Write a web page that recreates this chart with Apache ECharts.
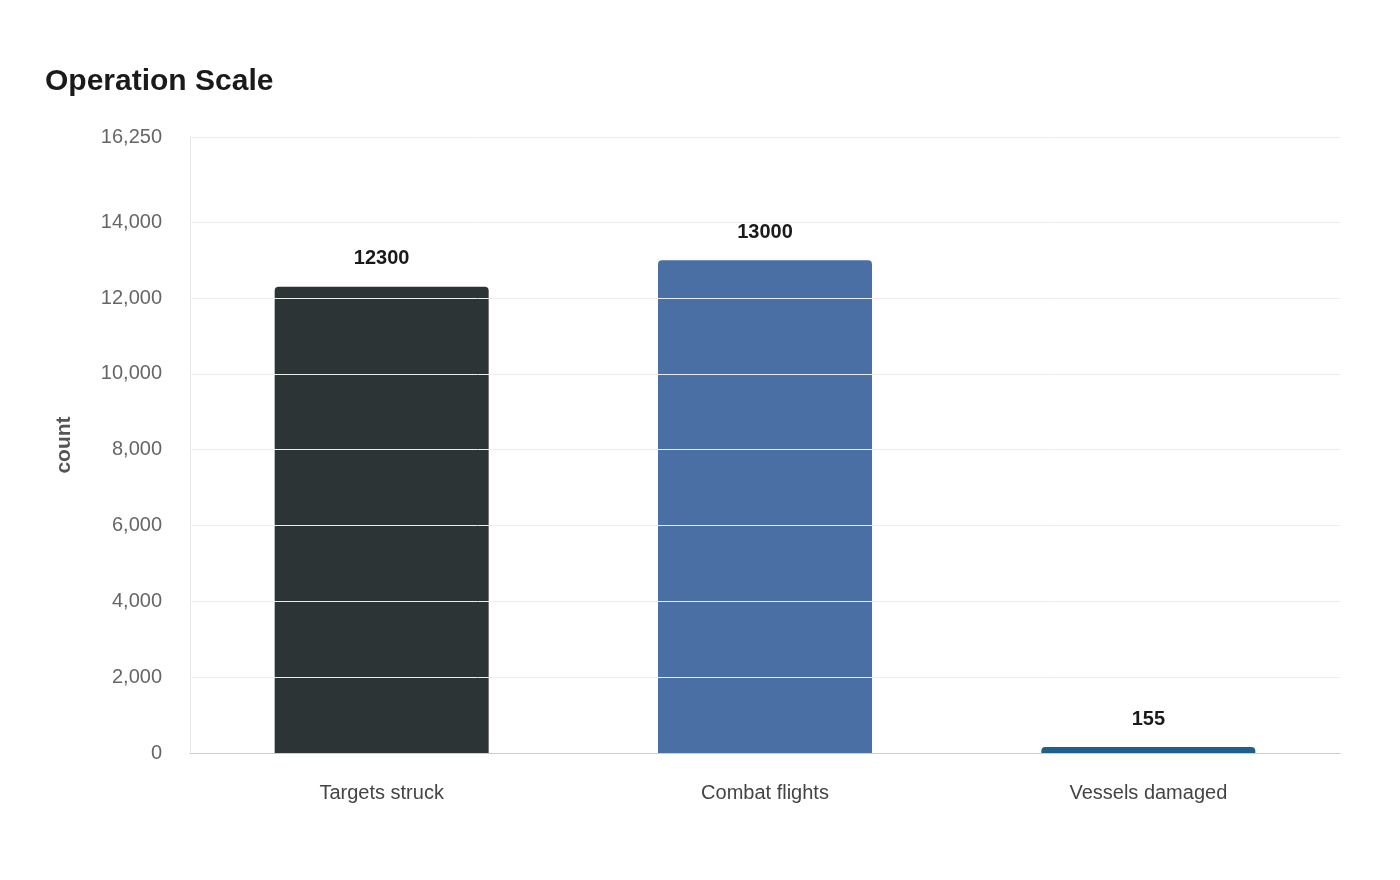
<!DOCTYPE html>
<html><head><meta charset="utf-8">
<script src="https://cdn.jsdelivr.net/npm/echarts@6/dist/echarts.min.js"></script>
<style>html,body{margin:0;padding:0;background:#fff}#c{width:1400px;height:880px}</style>
</head><body><div id="c"></div>
<script>
const categories = ['Targets struck', 'Combat flights', 'Vessels damaged'];
const values = [12300, 13000, 155];
const colors = ['#2d3436', '#4a6fa5', '#1f5f8b'];
const yTicks = [0, 2000, 4000, 6000, 8000, 10000, 12000, 14000, 16250];

const chart = echarts.init(document.getElementById('c'));
chart.setOption({
  animation: false,
  title: { text: 'Operation Scale', left: 40, top: 62, textStyle: { fontFamily: 'Liberation Sans, Arial', fontSize: 30, fontWeight: 'bold', color: '#1a1a1a' } },
  grid: { left: 190, right: 60, top: 137, bottom: 127 },
  xAxis: {
    type: 'category', data: categories,
    axisLine: { lineStyle: { color: '#cccccc' } }, axisTick: { show: false },
    axisLabel: { fontFamily: 'Liberation Sans, Arial', fontSize: 20, color: '#444', margin: 30 }
  },
  yAxis: {
    type: 'value', min: 0, max: 16250,
    name: 'count', nameLocation: 'middle', nameGap: 115,
    nameTextStyle: { fontFamily: 'Liberation Sans, Arial', fontSize: 21, fontWeight: 'bold', color: '#555' },
    axisLine: { show: true, lineStyle: { color: '#e6e6e6' } }, axisTick: { show: false },
    splitLine: { show: false },
    axisLabel: { customValues: yTicks, fontFamily: 'Liberation Sans, Arial', fontSize: 20, color: '#666', margin: 28,
      formatter: v => v.toLocaleString('en-US') }
  },
  series: [{
    type: 'bar', barWidth: 214,
    data: values.map((v, i) => ({ value: v, itemStyle: { color: colors[i], borderRadius: [4, 4, 0, 0] } })),
    label: { show: true, position: 'top', distance: 18, fontFamily: 'Liberation Sans, Arial', fontSize: 20, fontWeight: 'bold', color: '#1a1a1a' },
    markLine: {
      silent: true, symbol: 'none', label: { show: false },
      lineStyle: { color: '#ececec', type: 'solid', width: 1 },
      data: yTicks.filter(t => t > 0).map(t => ({ yAxis: t }))
    }
  }]
});
</script></body></html>
